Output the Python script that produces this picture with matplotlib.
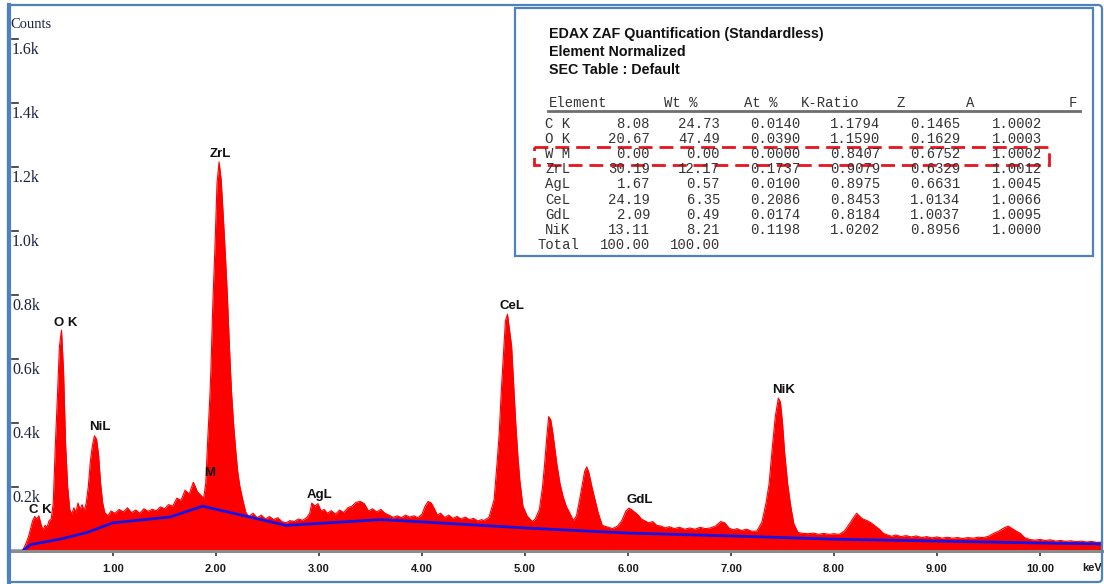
import matplotlib
matplotlib.use("Agg")
import matplotlib.pyplot as plt
import matplotlib.transforms as mtransforms
from matplotlib.patches import Rectangle, FancyBboxPatch

# ---- EDS spectrum (energy in keV, counts) ----
energy_kev = [
    0.00, 0.12, 0.15, 0.18, 0.20, 0.22, 0.24, 0.26, 0.28, 0.30, 0.32, 0.34, 0.36, 0.38, 0.40,
    0.42, 0.44, 0.46, 0.48, 0.50, 0.52, 0.54, 0.56, 0.58, 0.60, 0.62, 0.64, 0.66, 0.68, 0.70,
    0.72, 0.74, 0.76, 0.78, 0.80, 0.82, 0.84, 0.86, 0.88, 0.90, 0.92, 0.95, 0.98, 1.02, 1.06,
    1.10, 1.14, 1.18, 1.22, 1.26, 1.30, 1.34, 1.38, 1.42, 1.46, 1.50, 1.54, 1.58, 1.62, 1.66,
    1.70, 1.74, 1.78, 1.82, 1.85, 1.88, 1.90, 1.92, 1.94, 1.95, 1.97, 1.99, 2.01, 2.03, 2.05,
    2.07, 2.09, 2.11, 2.13, 2.15, 2.17, 2.19, 2.21, 2.23, 2.26, 2.29, 2.32, 2.36, 2.40, 2.44,
    2.48, 2.52, 2.56, 2.60, 2.64, 2.68, 2.72, 2.76, 2.80, 2.84, 2.88, 2.91, 2.93, 2.96, 2.99,
    3.02, 3.05, 3.08, 3.12, 3.16, 3.20, 3.24, 3.28, 3.32, 3.36, 3.40, 3.44, 3.48, 3.52, 3.56,
    3.60, 3.64, 3.68, 3.72, 3.76, 3.80, 3.84, 3.88, 3.92, 3.96, 4.00, 4.03, 4.06, 4.09, 4.12,
    4.15, 4.18, 4.22, 4.26, 4.30, 4.34, 4.38, 4.42, 4.46, 4.50, 4.54, 4.58, 4.60, 4.65, 4.70,
    4.73, 4.75, 4.77, 4.79, 4.81, 4.83, 4.85, 4.87, 4.89, 4.91, 4.93, 4.95, 4.98, 5.02, 5.07,
    5.10, 5.14, 5.17, 5.19, 5.21, 5.23, 5.25, 5.27, 5.29, 5.31, 5.34, 5.37, 5.40, 5.44, 5.47,
    5.50, 5.53, 5.56, 5.58, 5.60, 5.62, 5.65, 5.68, 5.71, 5.75, 5.80, 5.85, 5.90, 5.94, 5.98,
    6.01, 6.04, 6.07, 6.10, 6.13, 6.16, 6.20, 6.24, 6.28, 6.32, 6.36, 6.40, 6.45, 6.50, 6.55,
    6.60, 6.65, 6.70, 6.75, 6.80, 6.85, 6.90, 6.94, 6.98, 7.02, 7.06, 7.10, 7.15, 7.20, 7.25,
    7.30, 7.34, 7.37, 7.40, 7.43, 7.46, 7.48, 7.50, 7.52, 7.55, 7.58, 7.61, 7.65, 7.70, 7.75,
    7.80, 7.85, 7.90, 7.95, 8.00, 8.05, 8.10, 8.14, 8.18, 8.22, 8.25, 8.28, 8.32, 8.36, 8.40,
    8.44, 8.48, 8.52, 8.56, 8.60, 8.65, 8.70, 8.75, 8.80, 8.85, 8.90, 8.95, 9.00, 9.05, 9.10,
    9.15, 9.20, 9.25, 9.30, 9.35, 9.40, 9.45, 9.50, 9.55, 9.60, 9.65, 9.69, 9.73, 9.77, 9.81,
    9.85, 9.90, 9.95, 10.00, 10.05, 10.10, 10.15, 10.20, 10.25, 10.30, 10.35, 10.40, 10.45, 10.50, 10.55,
    10.60, 10.65,
]
counts = [
    0, 0, 20, 45, 70, 95, 108, 100, 110, 85, 65, 80, 75, 95, 100,
    150, 330, 480, 640, 690, 560, 330, 200, 130, 115, 135, 120, 150, 130, 145,
    125, 150, 200, 280, 330, 360, 350, 300, 210, 150, 120, 110, 125, 118, 130,
    122, 135, 120, 128, 118, 132, 124, 130, 126, 138, 132, 145, 140, 165, 158,
    190, 178, 215, 185, 175, 165, 210, 350, 480, 560, 780, 950, 1150, 1216, 1160,
    1050, 930, 800, 640, 500, 400, 320, 250, 205, 160, 120, 108, 118, 104, 112,
    100, 108, 98, 104, 92, 88, 95, 92, 100, 96, 104, 118, 150, 140, 148,
    125, 130, 118, 126, 115, 128, 120, 135, 140, 152, 155, 148, 125, 132, 122,
    130, 118, 112, 105, 110, 104, 112, 106, 110, 104, 115, 140, 155, 150, 132,
    112, 118, 105, 112, 102, 108, 100, 106, 98, 102, 94, 98, 95, 105, 160,
    280, 370, 500, 610, 720, 740, 690, 640, 520, 400, 300, 220, 140, 110, 92,
    100, 130, 200, 270, 350, 420, 410, 370, 320, 270, 210, 170, 140, 115, 95,
    110, 160, 215, 250, 263, 245, 200, 160, 120, 80, 75, 70, 78, 95, 125,
    134, 128, 120, 112, 100, 95, 88, 92, 80, 78, 72, 76, 70, 74, 68,
    72, 68, 74, 70, 72, 78, 92, 88, 72, 66, 70, 64, 68, 62, 62,
    90, 150, 210, 320, 420, 478, 465, 400, 310, 210, 140, 85, 58, 55, 54,
    56, 52, 55, 52, 54, 52, 62, 80, 100, 118, 108, 100, 95, 88, 78,
    68, 55, 50, 46, 50, 45, 48, 44, 47, 42, 45, 41, 44, 40, 43,
    40, 42, 39, 42, 40, 43, 42, 46, 55, 62, 72, 78, 70, 62, 55,
    42, 36, 34, 36, 33, 35, 31, 33, 30, 32, 29, 31, 28, 30, 27,
    28, 26,
]

# ---- fitted background (blue line) ----
bg_kev = [0.00, 0.12, 0.20, 0.50, 0.75, 1.00, 1.55, 1.87, 2.68, 3.60, 4.00, 5.00, 6.00, 7.00, 7.60, 8.00, 9.00, 10.00, 10.65]
bg_counts = [0, 0, 20, 38, 58, 88, 106, 140, 80, 98, 91, 72, 56, 47, 41, 37, 31, 25, 22]

# ---- axes ticks ----
x_ticks = [1, 2, 3, 4, 5, 6, 7, 8, 9, 10]
x_tick_labels = ["1.00", "2.00", "3.00", "4.00", "5.00", "6.00", "7.00", "8.00", "9.00", "10.00"]
y_ticks = [200, 400, 600, 800, 1000, 1200, 1400, 1600]
y_tick_labels = ["0.2k", "0.4k", "0.6k", "0.8k", "1.0k", "1.2k", "1.4k", "1.6k"]

# ---- peak identification labels (label, keV, counts at label centre) ----
peak_names = ["C K", "O K", "NiL", "ZrL", "M", "AgL", "CeL", "GdL", "NiK"]
peak_label_kev = [0.29, 0.54, 0.87, 2.04, 1.94, 3.01, 4.87, 6.11, 7.51]
peak_label_counts = [128, 712, 388, 1241, 244, 175, 766, 159, 503]

# ---- quantification table ----
table_elements = ["C K", "O K", "W M", "ZrL", "AgL", "CeL", "GdL", "NiK", "Total"]
table_wt = ["8.08", "20.67", "0.00", "30.19", "1.67", "24.19", "2.09", "13.11", "100.00"]
table_at = ["24.73", "47.49", "0.00", "12.17", "0.57", "6.35", "0.49", "8.21", "100.00"]
table_kratio = ["0.0140", "0.0390", "0.0000", "0.1737", "0.0100", "0.2086", "0.0174", "0.1198", ""]
table_z = ["1.1794", "1.1590", "0.8407", "0.9079", "0.8975", "0.8453", "0.8184", "1.0202", ""]
table_a = ["0.1465", "0.1629", "0.6752", "0.6329", "0.6631", "1.0134", "1.0037", "0.8956", ""]
table_f = ["1.0002", "1.0003", "1.0002", "1.0012", "1.0045", "1.0066", "1.0095", "1.0000", ""]

W, H = 1104, 584
fig = plt.figure(figsize=(W / 100, H / 100), dpi=100)
fig.patch.set_facecolor("white")

# spectrum axes: x=0 keV at px 10, 103 px per keV; 0 counts at py 551, 320 px per 1000 counts
ax_left, ax_right, ax_bottom, ax_top = 10, 1102, 551, 8
ax = fig.add_axes([ax_left / W, (H - ax_bottom) / H, (ax_right - ax_left) / W, (ax_bottom - ax_top) / H])
ax.set_xlim(0, (ax_right - ax_left) / 103.0)
ax.set_ylim(0, (ax_bottom - ax_top) * 1000 / 320.0)
ax.set_facecolor("white")

ax.fill_between(energy_kev, counts, 0, color="#ff0000", lw=0, zorder=2)
ax.plot(energy_kev, counts, color="#ff0000", lw=0.8, zorder=2)
ax.plot(bg_kev, bg_counts, color="#1414e6", lw=2.0, zorder=3, solid_joinstyle="round")

for side in ("left", "right", "top"):
    ax.spines[side].set_visible(False)
ax.spines["bottom"].set_color("#8c8c8c")
ax.spines["bottom"].set_linewidth(2.2)
ax.spines["bottom"].set_zorder(4)

ax.set_xticks(x_ticks)
ax.set_xticklabels(x_tick_labels, fontfamily="Liberation Sans", fontweight="bold", fontsize=8, color="#1a1a1a")
ax.tick_params(axis="x", direction="inout", length=7, width=1.2, color="#333333", pad=5.5)
ax.set_yticks([])

ytrans = mtransforms.blended_transform_factory(ax.transAxes, ax.transData)
for v, lab in zip(y_ticks, y_tick_labels):
    ax.plot([2 / 1092, 8 / 1092], [v, v], transform=ytrans, color="#333333", lw=1.2, zorder=5, clip_on=False)
    ax.text(2 / 1092, v - 8, lab, transform=ytrans, ha="left", va="top",
            fontfamily="Liberation Serif", fontsize=11.5, color="#1c2340", zorder=5)

ax.text(0.0, (551 - 24) / 543, "Counts", transform=ax.transAxes, ha="left", va="center",
        fontfamily="Liberation Serif", fontsize=10.5, color="#1c2340")
ax.text(1082 / 1092, -17 / 543, "keV", transform=ax.transAxes, ha="center", va="center",
        fontfamily="Liberation Sans", fontweight="bold", fontsize=8, color="#1a1a1a", clip_on=False)

for name, ek, ck in zip(peak_names, peak_label_kev, peak_label_counts):
    ax.text(ek, ck, name, ha="center", va="center", fontfamily="Liberation Sans",
            fontweight="bold", fontsize=9.5, color="#111111", zorder=6)

# overlay in pixel coordinates for frame and quantification table
ov = fig.add_axes([0, 0, 1, 1], zorder=10)
ov.set_xlim(0, W)
ov.set_ylim(H, 0)
ov.axis("off")
ov.patch.set_alpha(0)

ov.add_patch(FancyBboxPatch((8, 5), 1094, 577, boxstyle="round,pad=0,rounding_size=4",
                            fill=False, edgecolor="#4f81bd", lw=1.6))
ov.plot([9, 9], [5, 582], color="#4f81bd", lw=3)

ov.add_patch(Rectangle((515, 8), 578, 248, facecolor="white", edgecolor="#4f81bd", lw=1.6))

title_lines = ["EDAX ZAF Quantification (Standardless)", "Element Normalized", "SEC Table : Default"]
for i, line in enumerate(title_lines):
    ov.text(549, 34 + 18 * i, line, ha="left", va="center", fontfamily="Liberation Sans",
            fontweight="bold", fontsize=10.3, color="#111111")

mono = dict(fontfamily="Liberation Mono", fontsize=10, color="#333333", va="center")
header_y = 103
ov.text(549, header_y, "Element", ha="left", **mono)
ov.text(697, header_y, "Wt %", ha="right", **mono)
ov.text(777, header_y, "At %", ha="right", **mono)
ov.text(859, header_y, "K-Ratio", ha="right", **mono)
ov.text(901, header_y, "Z", ha="center", **mono)
ov.text(970, header_y, "A", ha="center", **mono)
ov.text(1073, header_y, "F", ha="center", **mono)
ov.plot([548, 1080], [111, 111], color="#6e6e6e", lw=2)

col_right = [650, 720, 800, 880, 960, 1042]
for r, el in enumerate(table_elements):
    y = 124 + 15.1 * r
    ov.text(537 if el == "Total" else 545, y, el, ha="left", **mono)
    for xr, col in zip(col_right, (table_wt, table_at, table_kratio, table_z, table_a, table_f)):
        if col[r]:
            ov.text(xr, y, col[r], ha="right", **mono)

ov.add_patch(Rectangle((534, 147), 515, 18, fill=False, edgecolor="#e8141e", lw=2,
                       linestyle=(0, (5, 2.5))))

fig.savefig("out.png", dpi=100, facecolor="white")
